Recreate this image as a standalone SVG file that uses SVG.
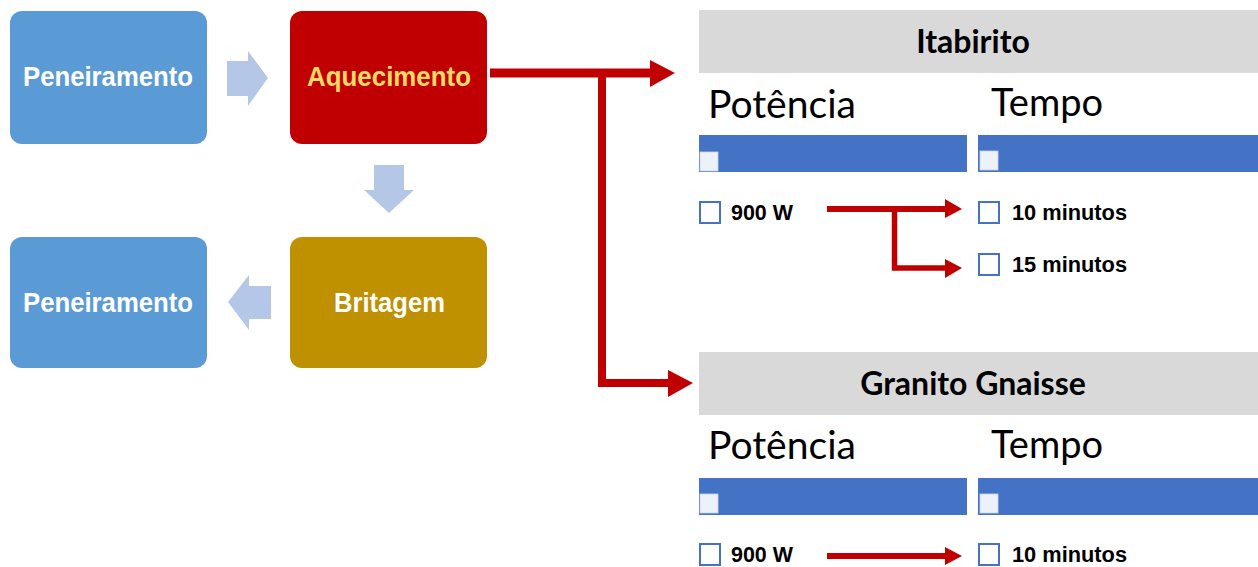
<svg xmlns="http://www.w3.org/2000/svg" width="1258" height="567" viewBox="0 0 1258 567">
<style>
.box-text{font-family:"Liberation Sans",Arial,sans-serif;font-weight:bold;font-size:28px;fill:#fff;}
.hdr{fill:#D9D9D9;}
.hdr-text{font-family:Lato,"Open Sans",sans-serif;font-weight:bold;font-size:32px;fill:#000;text-anchor:middle;}
.col-text{font-family:Lato,"Open Sans",sans-serif;font-size:39px;fill:#000;}
.bar{fill:#4472C4;}
.bar-sq{fill:#EDF1F9;stroke:#C9D5EE;stroke-width:0.8;}
.cb{fill:#fff;stroke:#4472C4;stroke-width:2;}
.item{font-family:"Liberation Sans",Arial,sans-serif;font-weight:bold;font-size:22px;fill:#000;}
.flow{fill:#B4C7E7;}
.red{stroke:#C00000;fill:none;}
.redhead{fill:#C00000;}
</style>

<g id="node-peneiramento-1">
<rect x="10" y="11" width="197" height="133" rx="12" fill="#5B9BD5"/>
<text class="box-text" x="23" y="86" textLength="170" lengthAdjust="spacingAndGlyphs">Peneiramento</text>
</g>
<g id="node-aquecimento">
<rect x="290" y="11" width="197" height="133" rx="12" fill="#C00000"/>
<text class="box-text" x="307" y="86" textLength="164" lengthAdjust="spacingAndGlyphs" style="fill:#FFD966">Aquecimento</text>
</g>
<g id="node-britagem">
<rect x="290" y="237" width="197" height="131" rx="12" fill="#BF9000"/>
<text class="box-text" x="334" y="312" textLength="111" lengthAdjust="spacingAndGlyphs">Britagem</text>
</g>
<g id="node-peneiramento-2">
<rect x="10" y="237" width="197" height="131" rx="12" fill="#5B9BD5"/>
<text class="box-text" x="23" y="312" textLength="170" lengthAdjust="spacingAndGlyphs">Peneiramento</text>
</g>

<g id="node-itabirito">
<rect class="hdr" x="699" y="10" width="559" height="63"/>
<text class="hdr-text" x="973" y="53">Itabirito</text>
<text class="col-text" x="708" y="118" textLength="148" lengthAdjust="spacingAndGlyphs">Potência</text>
<text class="col-text" x="991" y="116" textLength="112" lengthAdjust="spacingAndGlyphs">Tempo</text>
<rect class="bar" x="699" y="135" width="268" height="37"/>
<rect class="bar-sq" x="700" y="152" width="18" height="19"/>
<rect class="bar" x="978" y="135" width="280" height="37"/>
<rect class="bar-sq" x="980" y="151" width="18" height="19"/>
<rect class="cb" x="700" y="202" width="20" height="21"/>
<text class="item" x="731" y="220" textLength="62" lengthAdjust="spacingAndGlyphs">900 W</text>
<rect class="cb" x="979" y="202" width="20" height="21"/>
<text class="item" x="1012" y="220" textLength="115" lengthAdjust="spacingAndGlyphs">10 minutos</text>
<rect class="cb" x="979" y="254" width="20" height="21"/>
<text class="item" x="1012" y="272" textLength="115" lengthAdjust="spacingAndGlyphs">15 minutos</text>
</g>

<g id="node-granito-gnaisse">
<rect class="hdr" x="699" y="352" width="559" height="63"/>
<text class="hdr-text" x="973" y="395">Granito Gnaisse</text>
<text class="col-text" x="708" y="459" textLength="148" lengthAdjust="spacingAndGlyphs">Potência</text>
<text class="col-text" x="991" y="458" textLength="112" lengthAdjust="spacingAndGlyphs">Tempo</text>
<rect class="bar" x="699" y="478" width="268" height="37"/>
<rect class="bar-sq" x="700" y="494" width="18" height="19"/>
<rect class="bar" x="978" y="478" width="280" height="37"/>
<rect class="bar-sq" x="980" y="494" width="18" height="19"/>
<rect class="cb" x="700" y="544" width="20" height="21"/>
<text class="item" x="731" y="562" textLength="62" lengthAdjust="spacingAndGlyphs">900 W</text>
<rect class="cb" x="979" y="544" width="20" height="21"/>
<text class="item" x="1012" y="562" textLength="115" lengthAdjust="spacingAndGlyphs">10 minutos</text>
</g>

<g id="connectors">
<!-- block arrows -->
<polygon class="flow" points="227,61 248,61 248,51 268,78 248,106 248,96 227,96"/>
<polygon class="flow" points="374,165 404,165 404,190 414,190 389,213 364,190 374,190"/>
<polygon class="flow" points="271,286 249,286 249,275 228,302 249,330 249,319 271,319"/>
<!-- main red connectors -->
<path class="red" stroke-width="9" d="M490,73 H652"/>
<polygon class="redhead" points="650,60 675,73 650,87"/>
<path class="red" stroke-width="8" d="M602,73 V383 H670"/>
<polygon class="redhead" points="668,370 693,383 668,397"/>
<!-- small red connectors -->
<path class="red" stroke-width="6" d="M827,209 H947"/>
<polygon class="redhead" points="945,199 962,209 945,218"/>
<path class="red" stroke-width="5.5" d="M894.5,209 V268 H947"/>
<polygon class="redhead" points="945,259 962,268 945,278"/>
<path class="red" stroke-width="6" d="M827,556 H947"/>
<polygon class="redhead" points="945,547 962,556 945,565"/>
</g>
</svg>
